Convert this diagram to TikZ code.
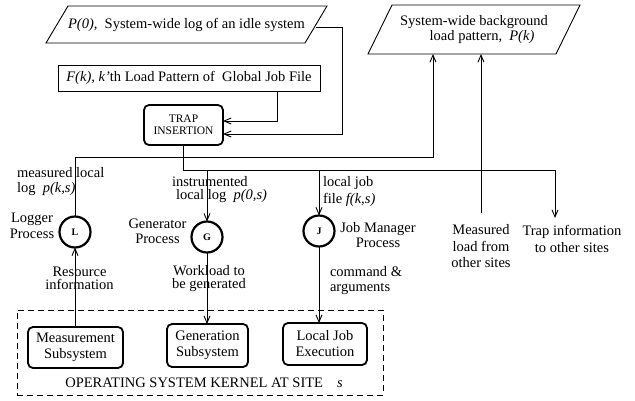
\documentclass[tikz,border=0pt]{standalone}
\usepackage{fontspec}
\setmainfont{Liberation Serif}
\usetikzlibrary{arrows.meta}
\begin{document}
\begin{tikzpicture}[x=1pt,y=-1pt,
  every node/.style={inner sep=0pt, outer sep=0pt},
  txt/.style={font=\fontsize{14.5}{#1}\selectfont},
  txt/.default=15,
  wire/.style={line width=0.9pt},
  arr/.style={wire,-{Straight Barb[length=7pt,width=6pt,line width=0.9pt]}},
  rbox/.style={draw, line width=1.8pt, rounded corners=5pt, align=center, txt=16},
  proc/.style={draw, circle, line width=2.2pt, minimum size=31pt,
    font=\fontsize{10}{12}\selectfont\bfseries},
  lc/.style={align=center},
  ll/.style={align=left, anchor=west}]
\useasboundingbox (0,0) rectangle (635,400);

% ---- data sources at the top ----
\node[txt, minimum width=259pt, minimum height=37pt] (p0) at (186.5,24.5)
  {\textit{P(0),}\ \ System-wide log of an idle system};
\draw[wire] ([xshift=-11pt]p0.south west) -- ([xshift=11pt]p0.north west)
  -- ([xshift=11pt]p0.north east) -- ([xshift=-11pt]p0.south east) -- cycle;

\node[txt, draw, wire, minimum width=262pt, minimum height=26pt] (fk) at (189,78)
  {\textit{F(k), k'}th Load Pattern of\ \ Global Job File};

\node[rbox, minimum width=79pt, minimum height=40pt,
  font=\fontsize{11.5}{12}\selectfont] (trap) at (183.5,125) {TRAP\\INSERTION};

\node[txt=13, lc, minimum width=188pt, minimum height=49pt] (pk) at (474,29.5)
  {System-wide background\\\hspace*{16pt}load pattern,\ \ \textit{P(k)}};
\draw[wire] ([xshift=-12pt]pk.south west) -- ([xshift=12pt]pk.north west)
  -- ([xshift=12pt]pk.north east) -- ([xshift=-12pt]pk.south east) -- cycle;

% ---- processes ----
\node[proc] (L) at (75,232) {L};
\node[proc] (G) at (207,237) {G};
\node[proc] (J) at (319,231) {J};

\node[txt=16, lc] (logger) at (32,226) {Logger\\Process};
\node[txt=15, lc] (genp) at (157.5,231.5) {Generator\\Process};
\node[txt=15, lc] (jmp) at (378,235.5) {Job Manager\\Process};

% ---- kernel at the site ----
\node[draw, wire, dashed, dash pattern=on 6pt off 4pt,
  minimum width=366pt, minimum height=85pt] (kernel) at (200,352.5) {};
\node[rbox, minimum width=95pt, minimum height=41pt] (meas) at (75.5,347.5)
  {Measurement\\Subsystem};
\node[rbox, minimum width=81pt, minimum height=43pt] (gen) at (207.5,345.5)
  {Generation\\Subsystem};
\node[rbox, minimum width=84pt, minimum height=42pt] (lje) at (325,344)
  {Local Job\\Execution};
\node[txt] (ktitle) at (204,383)
  {OPERATING SYSTEM KERNEL AT SITE\hspace{14pt}\textit{s}};

% ---- connector labels ----
\node[txt=15, ll] (mlog) at (17,181.5) {measured local\\log\ \ \textit{p(k,s)}};
\node[txt=13, ll] (ilog) at (172,189.5)
  {instrumented\\\hspace*{4pt}local log\ \ \textit{p(0,s)}};
\node[txt=17, ll] (jfile) at (323,191.5) {local job\\file \textit{f(k,s)}};
\node[txt=13, lc] (res) at (79.5,278.5) {Resource\\information};
\node[txt=13, lc] (wl) at (209,278.5) {Workload to\\be generated};
\node[txt=15, ll] (cmd) at (330,280.5) {command \&\\arguments};
\node[txt=16.5, lc] (mload) at (481,246.5) {Measured\\load from\\other sites};
\node[txt=17, lc] (trapinfo) at (572,238.5) {Trap information\\to other sites};

% ---- connectors ----
\coordinate (logy) at (0,157);
\coordinate (busy) at (0,170);
\coordinate (tiend) at (555,218);
\coordinate (mlstart) at (481,213);

\draw[arr] ([xshift=88pt]fk.south) |- ([yshift=4pt]trap.east);
\draw[arr] ([yshift=-3pt]p0.east) -- ++(26,0) |- ([yshift=-9pt]trap.east);

\draw[arr] (trap.south) -- (trap.south |- busy) -| (tiend);
\draw[arr] (G.north |- busy) -- (G.north);
\draw[arr] (J.north |- busy) -- (J.north);

\draw[arr] (L.north) -- (L.north |- logy) -| ([xshift=-41pt]pk.south);
\draw[arr] (mlstart) -- (mlstart |- pk.south);

\draw[arr] (L |- meas.north) -- (L.south);
\draw[arr] (G.south) -- (G |- gen.north);
\draw[arr] (J.south) -- (J |- lje.north);
\end{tikzpicture}
\end{document}
